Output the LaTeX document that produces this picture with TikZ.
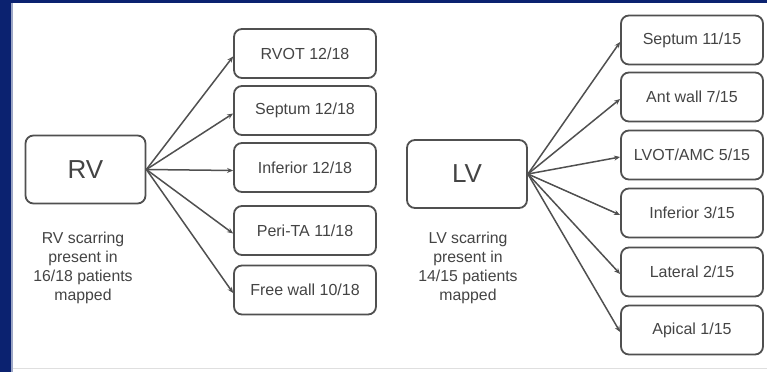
\documentclass[tikz,border=0pt]{standalone}
\usepackage{fontspec}
\setmainfont{Liberation Sans}
\usetikzlibrary{arrows.meta}
\definecolor{navy}{HTML}{0B2270}
\definecolor{edge}{HTML}{505050}
\definecolor{txt}{HTML}{444444}
\tikzset{
  box/.style={draw=edge, line width=1.8pt, rounded corners=8pt, fill=white, inner sep=0pt, text=txt},
  sub/.style={box, minimum width=142pt, minimum height=49pt, font=\fontsize{16}{19}\selectfont},
  mainbox/.style={box, minimum width=120pt, minimum height=68pt, font=\fontsize{26}{30}\selectfont},
  captext/.style={align=center, text=txt, font=\fontsize{15.8}{19}\selectfont},
  arr/.style={draw=edge, line width=1.5pt, -{Stealth[length=6pt,width=5pt]}}
}
\begin{document}
\begin{tikzpicture}[x=1pt,y=-1pt]
\useasboundingbox (0,0) rectangle (767,372);
\fill[white] (0,0) rectangle (767,372);
\fill[navy] (0,0) rectangle (767,3);
\fill[navy] (0,0) rectangle (11,372);
\fill[navy!40] (11,3) rectangle (13,372);
\draw[gray!25, line width=1pt] (13,368.5) -- (767,368.5);

\node[mainbox] (rv) at (85.5,169.5) {RV};
\node[captext] (rvcap) at (83,267.5) {RV scarring\\present in\\16/18 patients\\mapped};
\node[sub] (rvot) at (305,53.5) {RVOT 12/18};
\node[sub] (rsep) at (305,110.5) {Septum 12/18};
\node[sub] (rinf) at (305,167.5) {Inferior 12/18};
\node[sub] (rperi) at (305,230.5) {Peri-TA 11/18};
\node[sub] (rfree) at (305,290) {Free wall 10/18};
\foreach \n in {rvot,rsep,rinf,rperi,rfree}
  \draw[arr] (rv.east) -- ([yshift=-3pt]\n.west);

\node[mainbox] (lv) at (467,174) {LV};
\node[captext] (lvcap) at (468,267.5) {LV scarring\\present in\\14/15 patients\\mapped};
\node[sub] (lsep) at (692,40) {Septum 11/15};
\node[sub] (lant) at (692,97) {Ant wall 7/15};
\node[sub] (llvot) at (692,155) {LVOT/AMC 5/15};
\node[sub] (linf) at (692,213) {Inferior 3/15};
\node[sub] (llat) at (692,272) {Lateral 2/15};
\node[sub] (lapi) at (692,330) {Apical 1/15};
\foreach \n in {lsep,lant,llvot,linf,llat,lapi}
  \draw[arr] (lv.east) -- ([yshift=-2pt]\n.west);
\end{tikzpicture}
\end{document}
